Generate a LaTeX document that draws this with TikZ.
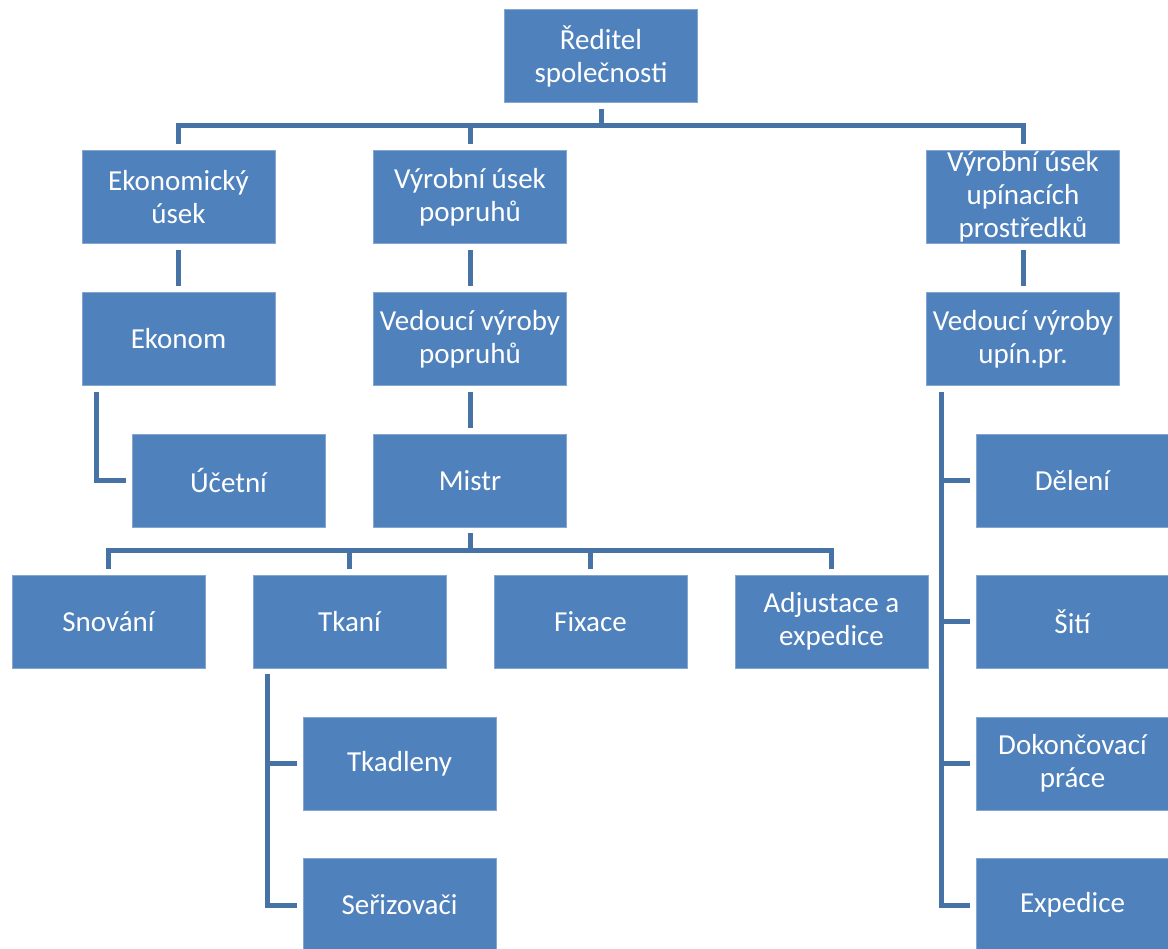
\documentclass[tikz,border=0pt]{standalone}
\usepackage{fontspec}
\setmainfont{Carlito}
\definecolor{boxblue}{HTML}{4F81BD}
\definecolor{lineblue}{HTML}{4672A6}
\begin{document}
\begin{tikzpicture}[x=1pt,y=-1pt,
  box/.style={fill=boxblue,draw=boxblue!70!white,line width=0.6pt,text=white,minimum width=193pt,minimum height=93pt,inner sep=0pt,align=center,font=\fontsize{29}{33}\selectfont},
  conn/.style={draw=lineblue,line width=5pt,line join=miter}]
\useasboundingbox (0,0) rectangle (1168,949);
\node[box] (R) at (601,56) {Ředitel\\společnosti};
\node[box] (EU) at (178.5,197) {Ekonomický\\úsek};
\node[box] (VP) at (470,197) {Výrobní úsek\\popruhů};
\node[box] (VU) at (1023,197) {Výrobní úsek\\upínacích\\prostředků};
\node[box] (EK) at (178.5,339) {Ekonom};
\node[box] (VVP) at (470,339) {Vedoucí výroby\\popruhů};
\node[box] (VVU) at (1023,339) {Vedoucí výroby\\upín.pr.};
\node[box] (UC) at (228.5,480.5) {Účetní};
\node[box] (MI) at (470,480.5) {Mistr};
\node[box] (DE) at (1072.5,480.5) {Dělení};
\node[box] (SN) at (108.5,621.5) {Snování};
\node[box] (TK) at (349.5,621.5) {Tkaní};
\node[box] (FI) at (590.5,621.5) {Fixace};
\node[box] (AD) at (831.5,621.5) {Adjustace a\\expedice};
\node[box] (SI) at (1072.5,621.5) {Šití};
\node[box] (TD) at (399.5,763.5) {Tkadleny};
\node[box] (DO) at (1072.5,763.5) {Dokončovací\\práce};
\node[box] (SE) at (399.5,905) {Seřizovači};
\node[box] (EX) at (1072.5,905) {Expedice};
% top level
\coordinate (t1) at ([yshift=-23pt]R.south);
\draw[conn] ([yshift=-6pt]R.south) -- (t1);
\draw[conn] ([yshift=6pt]EU.north) |- (t1) -| ([yshift=6pt]VU.north);
\draw[conn] ([yshift=6pt]VP.north) -- (VP.north |- t1);
% vertical chains
\draw[conn] ([yshift=-6pt]EU.south) -- ([yshift=6pt]EK.north);
\draw[conn] ([yshift=-6pt]VP.south) -- ([yshift=6pt]VVP.north);
\draw[conn] ([yshift=-6pt]VVP.south) -- ([yshift=6pt]MI.north);
\draw[conn] ([yshift=-6pt]VU.south) -- ([yshift=6pt]VVU.north);
% Ekonom -> Ucetni
\coordinate (e1) at ([xshift=15pt,yshift=-6pt]EK.south west);
\draw[conn] (e1) |- ([xshift=-6pt]UC.west);
% Mistr bus
\coordinate (m1) at ([yshift=-23pt]MI.south);
\draw[conn] ([yshift=-6pt]MI.south) -- (m1);
\draw[conn] ([yshift=6pt]SN.north) |- (m1) -| ([yshift=6pt]AD.north);
\draw[conn] (m1) -| ([yshift=6pt]TK.north);
\draw[conn] (m1) -| ([yshift=6pt]FI.north);
% Tkani branch
\coordinate (k1) at ([xshift=15pt,yshift=-6pt]TK.south west);
\draw[conn] (k1) |- ([xshift=-6pt]SE.west);
\draw[conn] (k1 |- TD.west) -- ([xshift=-6pt]TD.west);
% upinaci branch
\coordinate (u1) at ([xshift=15pt,yshift=-6pt]VVU.south west);
\draw[conn] (u1) |- ([xshift=-6pt]EX.west);
\draw[conn] (u1 |- DE.west) -- ([xshift=-6pt]DE.west);
\draw[conn] (u1 |- SI.west) -- ([xshift=-6pt]SI.west);
\draw[conn] (u1 |- DO.west) -- ([xshift=-6pt]DO.west);
\end{tikzpicture}
\end{document}
